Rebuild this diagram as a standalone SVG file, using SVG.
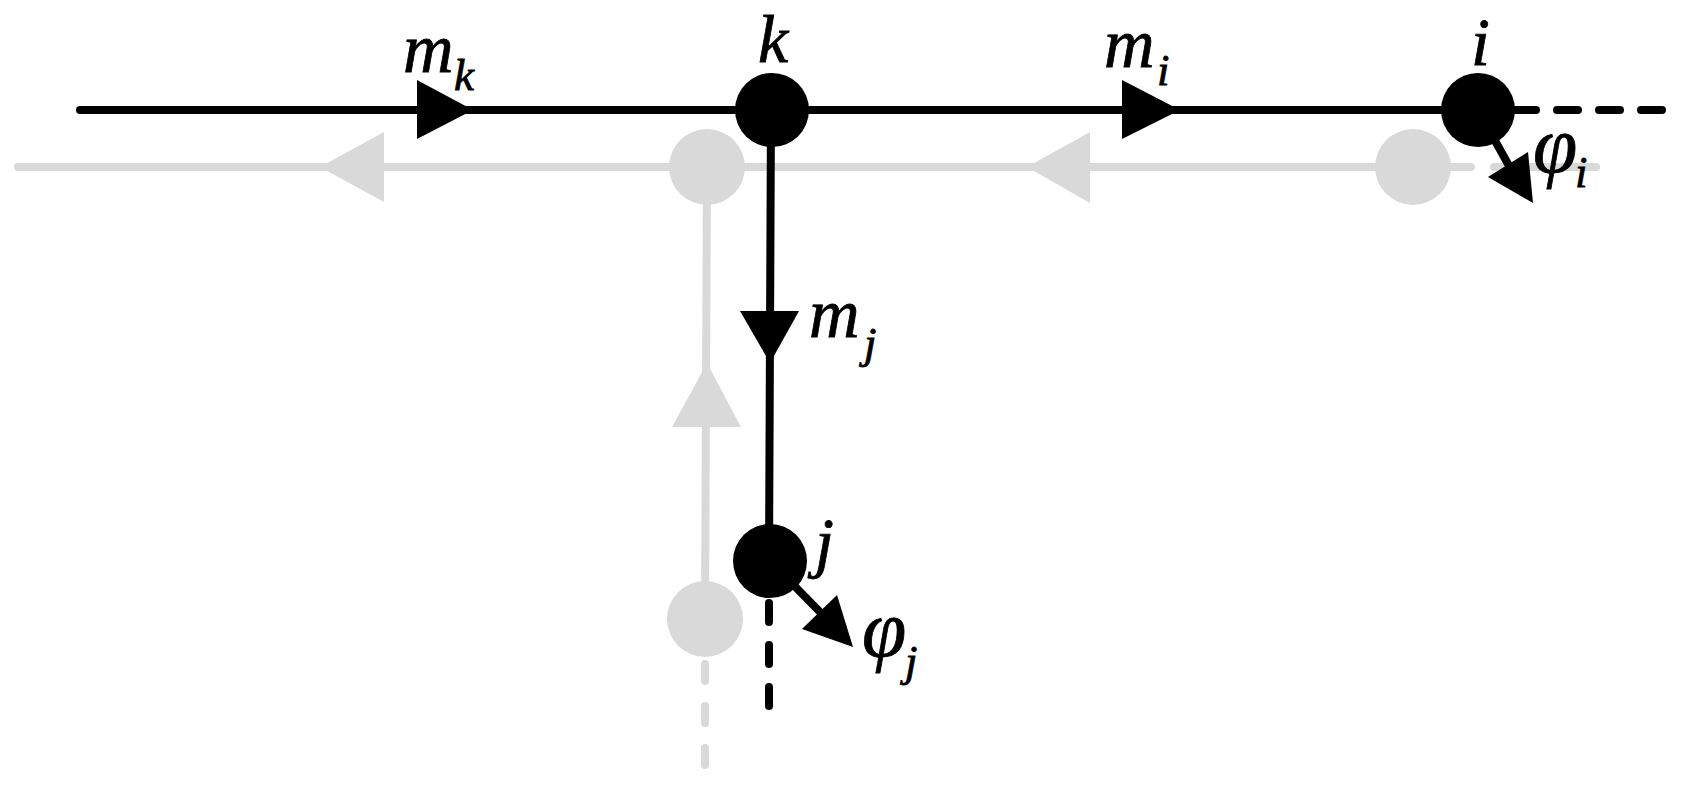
<svg xmlns="http://www.w3.org/2000/svg" width="1682" height="785" viewBox="0 0 1682 785">
<style>
.g{stroke:#d9d9d9;stroke-width:8;fill:none;stroke-linecap:round}
.gf{fill:#d9d9d9}
.b{stroke:#000;stroke-width:8;fill:none;stroke-linecap:round}
.bf{fill:#000}
.t{font-family:"Liberation Serif","Times New Roman",serif;font-style:italic;fill:#000;stroke:#000;stroke-width:0.8}
.big{font-size:70px}
.phi{font-size:80px}
.lab{font-size:68px}
.sub{font-size:45px}
</style>
<rect width="1682" height="785" fill="#fff"/>
<g id="connectors">
  <g id="gray-layer">
    <line class="g" x1="18" y1="167" x2="1471" y2="167"/>
    <line class="g" x1="1494" y1="167" x2="1596" y2="167"/>
    <line class="g" x1="707" y1="167" x2="705" y2="619"/>
    <line class="g" x1="705" y1="664" x2="705" y2="768" stroke-dasharray="17 25"/>
    <polygon class="gf" points="320,167 384,132 384,202"/>
    <polygon class="gf" points="1027,167 1090,132 1090,203"/>
    <polygon class="gf" points="707,363 672,427 741,427"/>
  </g>
  <g id="black-layer">
    <line class="b" x1="80" y1="110" x2="1478" y2="110"/>
    <line class="b" x1="1478" y1="110" x2="1536" y2="110"/>
    <line class="b" x1="1557" y1="110" x2="1662" y2="110" stroke-dasharray="21 21"/>
    <line class="b" x1="771" y1="110" x2="769" y2="561"/>
    <line class="b" x1="769" y1="603" x2="769" y2="707" stroke-dasharray="19 23"/>
    <polygon class="bf" points="417,80 473,110 417,139"/>
    <polygon class="bf" points="1122,80 1180,110 1122,139"/>
    <polygon class="bf" points="740,311 799,311 770,363"/>
    <line class="b" x1="1478" y1="110" x2="1508" y2="164"/>
    <polygon class="bf" points="1533,203 1488,177 1528,152"/>
    <line class="b" x1="770" y1="561" x2="820" y2="612"/>
    <polygon class="bf" points="853,647 802,629 837,595"/>
  </g>
  <g id="connector-labels">
    <text class="t big" x="403" y="72">m</text><text class="t sub" x="454" y="90">k</text>
    <text class="t big" x="1104" y="67">m</text><text class="t sub" x="1157" y="85">i</text>
    <text class="t big" x="809" y="337">m</text><text class="t sub" x="864" y="358">j</text>
    <text class="t phi" x="1533" y="172">φ</text><text class="t sub" x="1575" y="187">i</text>
    <text class="t phi" x="862" y="656">φ</text><text class="t sub" x="905" y="676">j</text>
  </g>
</g>
<g id="node-k-gray"><circle class="gf" cx="707" cy="167" r="38"/></g>
<g id="node-i-gray"><circle class="gf" cx="1413" cy="167" r="38"/></g>
<g id="node-j-gray"><circle class="gf" cx="705" cy="619" r="38"/></g>
<g id="node-k"><circle class="bf" cx="772" cy="110" r="37"/><text class="t lab" x="758" y="62">k</text></g>
<g id="node-i"><circle class="bf" cx="1478" cy="110" r="37"/><text class="t lab" x="1471" y="65">i</text></g>
<g id="node-j"><circle class="bf" cx="770" cy="561" r="37"/><text class="t lab" x="815" y="565">j</text></g>
</svg>
